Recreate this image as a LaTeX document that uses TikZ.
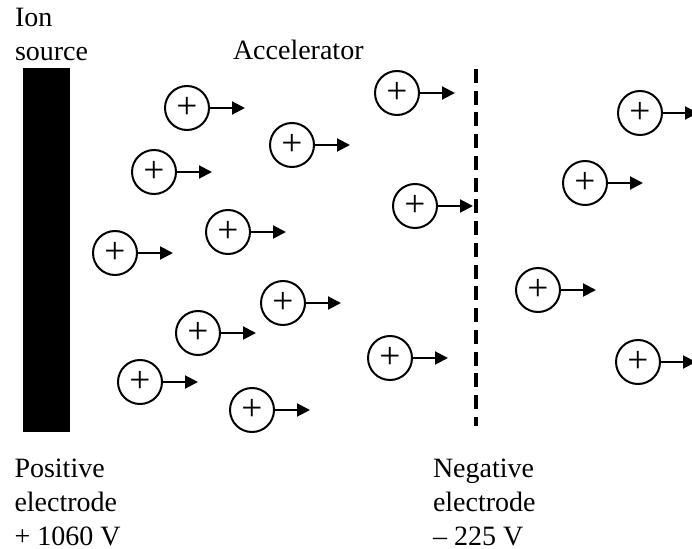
\documentclass[tikz,border=0pt]{standalone}
\usepackage{fontspec}
\setmainfont{Liberation Serif}
\usetikzlibrary{arrows.meta,positioning,calc}
\tikzset{every picture/.style={line width=1.5pt}}

\begin{document}
\begin{tikzpicture}[x=0.75pt,y=-0.75pt,
    ion/.style={circle,draw,inner sep=0,minimum size=33pt,font=\fontsize{28}{28}\selectfont},
    caption/.style={inner sep=0,anchor=base west,align=left,font=\fontsize{21}{25.5}\selectfont},
    push/.style={-{Triangle[length=9.75pt,width=9.75pt]}}]
    \useasboundingbox (0,0) rectangle (692,549);
    \fill (23,68) rectangle (70,432);
    \coordinate (gtop) at (476,69);
    \coordinate (gbot) at (476,426);
    \draw[line width=3pt,dash pattern=on 10.5pt off 5.8pt] (gtop) -- (gbot);
    \foreach \x/\y [count=\n] in {187/108,154/172,292/145,397/93,640/113,585/183,415/206,538/290,390/358,638/362,115/253,228/232,283/303,198/333,140/382,252/410} {
        \node[ion] (ion\n) at (\x,\y) {+};
        \coordinate (tip\n) at ($(ion\n.east)+(35,0)$);
        \draw[push] (ion\n) -- (tip\n);
    }
    \node[caption] (src) at (14,61) {Ion\\source};
    \node[caption] (acc) at (232,60) {Accelerator};
    \node[caption] (pos) at (13.5,545) {Positive\\electrode\\+ 1060 V};
    \node[caption] (neg) at (432,545) {Negative\\electrode\\– 225 V};
\end{tikzpicture}
\end{document}
